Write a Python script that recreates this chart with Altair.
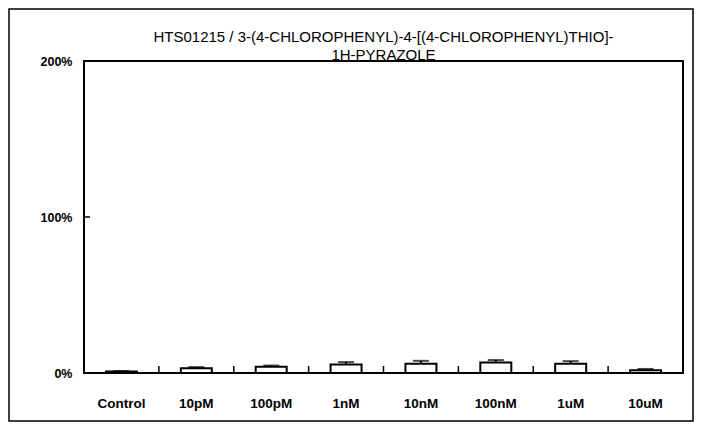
import altair as alt
import pandas as pd

categories = ["Control", "10pM", "100pM", "1nM", "10nM", "100nM", "1uM", "10uM"]
means = [1.0, 3.0, 4.0, 5.5, 6.0, 6.8, 6.0, 1.8]
errors = [0.3, 0.8, 0.8, 1.5, 1.8, 1.5, 1.6, 0.8]
y_ticks = [0, 100, 200]
title_line1 = "HTS01215 / 3-(4-CHLOROPHENYL)-4-[(4-CHLOROPHENYL)THIO]-"
title_line2 = "1H-PYRAZOLE"

df = pd.DataFrame({"cat": categories, "mean": means, "err": errors})
df["hi"] = df["mean"] + df["err"]

FONT = "Liberation Sans"

x_enc = alt.X("cat:N", sort=categories, title=None,
              scale=alt.Scale(paddingInner=0, paddingOuter=0),
              axis=alt.Axis(labelAngle=0, labelFont=FONT, labelFontSize=13.5,
                            labelFontWeight="bold", labelColor="black",
                            labelPadding=23, ticks=False, domain=False))
y_scale = alt.Scale(domain=[0, 200], nice=False)
y_enc = alt.Y("mean:Q", scale=y_scale, title=None,
              axis=alt.Axis(values=y_ticks, labelExpr="datum.value + '%'",
                            labelFont=FONT, labelFontSize=12.5, labelFontWeight="bold",
                            labelColor="black", labelPadding=12, ticks=False,
                            domain=False, grid=False))

base = alt.Chart(df)

bars = base.mark_bar(size=31, fill="white", stroke="black", strokeWidth=2).encode(
    x=x_enc, y=y_enc)

err_rule = base.mark_rule(color="black", strokeWidth=2).encode(
    x=alt.X("cat:N", sort=categories), y=alt.Y("mean:Q", scale=y_scale), y2="hi:Q")

err_cap = base.mark_tick(color="black", orient="horizontal", size=16, thickness=2).encode(
    x=alt.X("cat:N", sort=categories), y=alt.Y("hi:Q", scale=y_scale))

xticks = base.mark_rule(color="black", strokeWidth=1.5).encode(
    x=alt.X("cat:N", sort=categories, bandPosition=0),
    y=alt.value(312), y2=alt.value(305))

yt = pd.DataFrame({"v": y_ticks})
yticks = alt.Chart(yt).mark_rule(color="black", strokeWidth=1.5).encode(
    y=alt.Y("v:Q", scale=y_scale), x=alt.value(0), x2=alt.value(6))

frame = alt.Chart(pd.DataFrame({"a": [0]})).mark_rect(
    fill="transparent", stroke="black", strokeWidth=1.5).encode(
    x=alt.value(-75), x2=alt.value(609), y=alt.value(-52), y2=alt.value(360))

t1 = alt.Chart(pd.DataFrame({"t": [title_line1]})).mark_text(
    font=FONT, fontSize=15, color="black", align="center", baseline="middle").encode(
    text="t:N", x=alt.value(299.5), y=alt.value(-24))
t2 = alt.Chart(pd.DataFrame({"t": [title_line2]})).mark_text(
    font=FONT, fontSize=15, color="black", align="center", baseline="middle").encode(
    text="t:N", x=alt.value(299.5), y=alt.value(-6))

chart = alt.layer(frame, bars, err_rule, err_cap, xticks, yticks, t1, t2).properties(
    width=599, height=312,
    padding={"left": 76, "top": 53, "right": 11, "bottom": 49},
    autosize=alt.AutoSizeParams(type="none"),
).configure(background="white").configure_view(stroke="black", strokeWidth=2, fill="white")

chart.save("out.html", embed_options={"renderer": "svg", "actions": False})
